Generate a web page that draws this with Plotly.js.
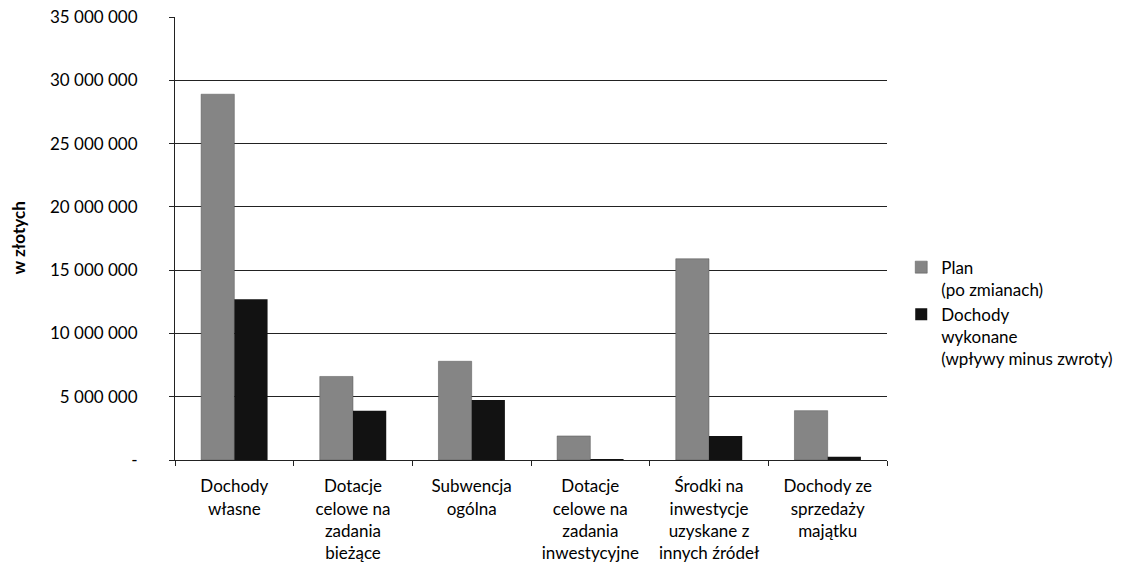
<!DOCTYPE html>
<html>
<head>
<meta charset="utf-8">
<script src="https://cdn.plot.ly/plotly-3.0.1.min.js"></script>
<style>html,body{margin:0;padding:0;background:#fff;}#chart{width:1139px;height:581px;}</style>
</head>
<body>
<div id="chart"></div>
<script>
var categories = [
  "Dochody<br>własne",
  "Dotacje<br>celowe na<br>zadania<br>bieżące",
  "Subwencja<br>ogólna",
  "Dotacje<br>celowe na<br>zadania<br>inwestycyjne",
  "Środki na<br>inwestycje<br>uzyskane z<br>innych źródeł",
  "Dochody ze<br>sprzedaży<br>majątku"
];
var planValues = [28900000, 6600000, 7800000, 1900000, 15900000, 3900000];
var wykonaneValues = [12700000, 3900000, 4750000, 30000, 1900000, 250000];
var yTickVals = [0, 5000000, 10000000, 15000000, 20000000, 25000000, 30000000, 35000000];
var yTickText = ["-", "5 000 000", "10 000 000", "15 000 000", "20 000 000", "25 000 000", "30 000 000", "35 000 000"];
var seriesNames = ["Plan<br>(po zmianach)", "Dochody<br>wykonane<br>(wpływy minus zwroty)"];

var font = "Lato, 'Open Sans', sans-serif";
var data = [
  {type: "bar", x: categories, y: planValues, name: seriesNames[0],
   marker: {color: "#858585", line: {color: "#555", width: 0.5}}},
  {type: "bar", x: categories, y: wykonaneValues, name: seriesNames[1],
   marker: {color: "#121212"}}
];
var layout = {
  width: 1139, height: 581,
  margin: {l: 175, r: 252, t: 17, b: 121},
  paper_bgcolor: "#fff", plot_bgcolor: "#fff",
  barmode: "group", bargap: 0.44, bargroupgap: 0,
  font: {family: font, size: 17, color: "#000"},
  showlegend: true,
  legend: {x: 1.02, y: 0.475, xanchor: "left", yanchor: "top", valign: "top",
    font: {family: font, size: 17, color: "#000"}, tracegroupgap: 10,
    itemwidth: 30, bgcolor: "rgba(0,0,0,0)"},
  xaxis: {showline: true, linecolor: "#222", linewidth: 1, ticks: "outside",
    tickson: "boundaries", ticklen: 5, tickcolor: "#222", showgrid: false,
    ticklabelstandoff: 11,
    tickfont: {family: font, size: 17, color: "#000"}, automargin: false},
  yaxis: {range: [0, 35000000], tickvals: yTickVals, ticktext: yTickText,
    showline: true, linecolor: "#222", linewidth: 1, ticks: "outside",
    ticklen: 5, tickcolor: "#222", showgrid: true, gridcolor: "#222", gridwidth: 1,
    zeroline: false, ticklabelstandoff: 28,
    tickfont: {family: font, size: 17, color: "#000"}, automargin: false},
  annotations: [{text: "<b>w złotych</b>", xref: "paper", yref: "paper",
    x: -0.2205, y: 0.5, xanchor: "center", yanchor: "middle", textangle: -90,
    showarrow: false, font: {family: font, size: 17, color: "#000"}}]
};
Plotly.newPlot("chart", data, layout, {displayModeBar: false});
</script>
</body>
</html>
